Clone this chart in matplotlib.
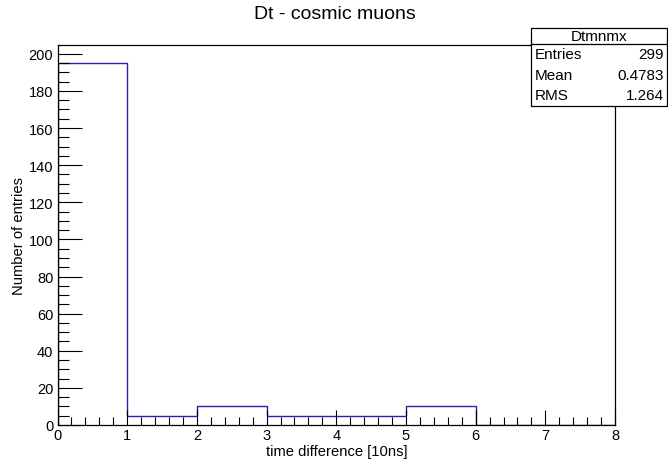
import matplotlib
matplotlib.use("Agg")
import matplotlib.pyplot as plt
from matplotlib.ticker import MultipleLocator
from matplotlib.patches import Rectangle
from matplotlib.lines import Line2D

plt.rcParams['font.family'] = ['Liberation Sans', 'DejaVu Sans']

# Histogram contents
bin_edges = [0, 1, 2, 3, 4, 5, 6, 7, 8]
counts = [195, 5, 10, 5, 5, 10, 0, 0]

# Statistics box
stats_title = "Dtmnmx"
stats_names = ["Entries", "Mean", "RMS"]
stats_values = ["299", "0.4783", "1.264"]

fig = plt.figure(figsize=(6.68, 4.64), dpi=100)
ax = fig.add_axes([0.0861, 0.0819, 0.8346, 0.819])

ax.stairs(counts, bin_edges, color='#2323b0', lw=1.0)

ax.set_xlim(0, 8)
ax.set_ylim(0, 204.75)
ax.xaxis.set_major_locator(MultipleLocator(1))
ax.xaxis.set_minor_locator(MultipleLocator(0.2))
ax.yaxis.set_major_locator(MultipleLocator(20))
ax.yaxis.set_minor_locator(MultipleLocator(5))
ax.tick_params(which='both', direction='in', top=False, right=False,
               labelsize=10.5, width=0.8, color='black')
ax.tick_params(axis='y', which='major', length=17, pad=3)
ax.tick_params(axis='y', which='minor', length=8)
ax.tick_params(axis='x', which='major', length=11, pad=2)
ax.tick_params(axis='x', which='minor', length=5.5)
for s in ax.spines.values():
    s.set_linewidth(0.9)

ax.set_xlabel("time difference [10ns]", fontsize=10.6, labelpad=1.5)
ax.set_ylabel("Number of entries", fontsize=10.6, labelpad=2)
fig.text(0.5015, 0.968, "Dt - cosmic muons", ha='center', va='center', fontsize=14)

# Statistics box in the top-right corner
x0, x1 = 531 / 668, 1.0
y_top, y_sep, y_bot = 1 - 29.3 / 464, 1 - 45 / 464, 1 - 106.7 / 464
fig.patches.append(Rectangle((x0, y_bot), x1 - x0 - 0.001, y_top - y_bot,
                             transform=fig.transFigure, facecolor='white',
                             edgecolor='black', lw=0.9, zorder=5))
fig.lines.append(Line2D([x0, x1], [y_sep, y_sep], transform=fig.transFigure,
                        color='black', lw=0.9, zorder=6))
fig.text((x0 + x1) / 2, (y_top + y_sep) / 2, stats_title, ha='center',
         va='center', fontsize=11, zorder=7)
row_h = (y_sep - y_bot) / len(stats_names)
for i, (n, v) in enumerate(zip(stats_names, stats_values)):
    yc = y_sep - (i + 0.5) * row_h
    fig.text(x0 + 0.006, yc, n, ha='left', va='center', fontsize=11, zorder=7)
    fig.text(x1 - 0.006, yc, v, ha='right', va='center', fontsize=11, zorder=7)

fig.savefig("out.png", dpi=100)
